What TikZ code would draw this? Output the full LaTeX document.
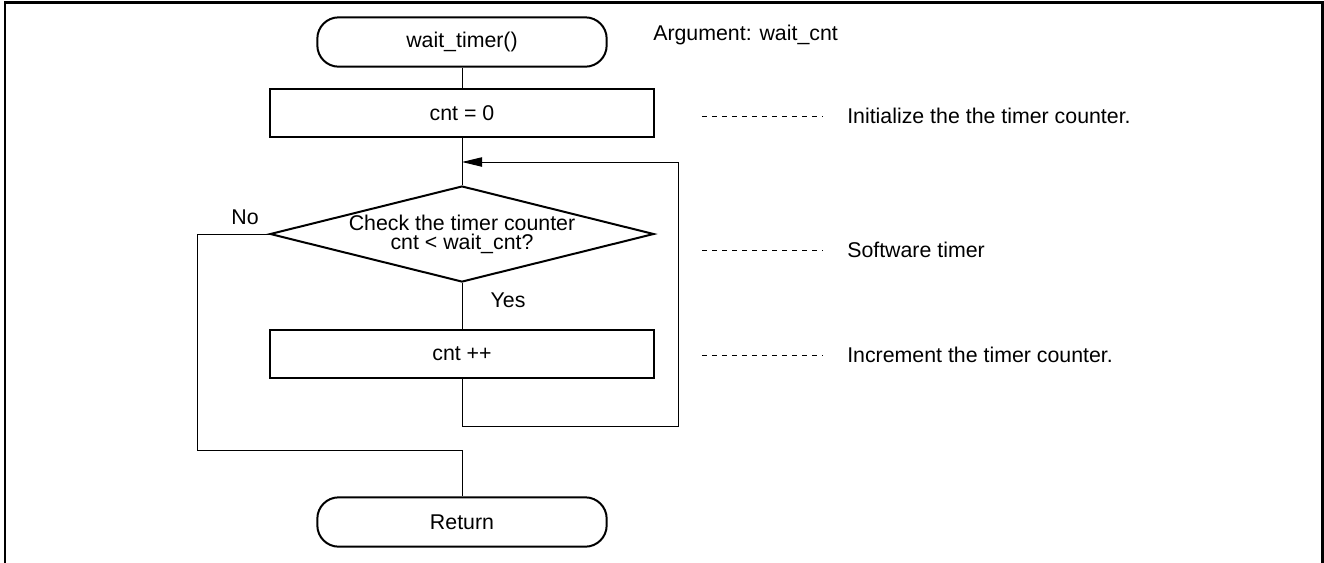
\documentclass[tikz,border=0pt]{standalone}
\usepackage{fontspec}
\setmainfont{Liberation Sans}
\usetikzlibrary{shapes.geometric,arrows.meta}

\begin{document}
\begin{tikzpicture}[x=0.75pt, y=-0.75pt, font=\fontsize{16}{14.3}\selectfont]
	\tikzstyle{term}=[draw=black, line width=1.5pt, rounded corners=16pt, minimum width=217pt, minimum height=37pt]
	\tikzstyle{proc}=[draw=black, line width=1.5pt, minimum width=288.5pt, minimum height=36pt]
	\tikzstyle{decide}=[diamond, draw=black, line width=1.5pt, aspect=4, inner sep=0pt, minimum width=288pt, minimum height=72pt, align=center]
	\tikzstyle{note}=[anchor=west, inner xsep=18pt, inner ysep=0pt]
	\tikzstyle{flow}=[line width=0.75pt]
	\tikzstyle{dots}=[line width=0.75pt, dash pattern=on 3.75pt off 3.75pt]
	
	\useasboundingbox (0,0) rectangle (1324,562);
	\draw [line width=1.9pt] (5,2.5) rectangle (1322.5,566);
	
	\draw node at (462, 42) [term] (start) {wait\_timer()};
	\draw node at (653, 35) [anchor=west, inner sep=0pt] (arg) {Argument: wait\_cnt};
	\draw node at (462, 113) [proc] (init) {cnt = 0};
	\draw node at (462, 234) [decide] (check) {Check the timer counter\\cnt < wait\_cnt?};
	\draw node at (462, 354) [proc] (incr) {cnt ++};
	\draw node at (462, 522) [term] (ret) {Return};
	
	\node at (245, 217) (no) {No};
	\node at (508, 300) (yes) {Yes};
	
	\coordinate (join) at (462, 162);
	\coordinate (back) at (678, 426);
	\coordinate (nocorner) at (197, 450);
	
	\draw [flow] (start) -- (init);
	\draw [flow] (init) -- (check);
	\draw [flow] (check) -- (incr);
	\draw [flow, -{Triangle[length=15pt, width=7pt]}] (incr.south) |- (back) |- (join);
	\draw [flow] (check.west) -| (nocorner) -| (ret.north);
	
	% comments on the right
	\coordinate (d1) at (702, 116);
	\coordinate (d2) at (702, 250);
	\coordinate (d3) at (702, 355);
	\draw node at (823, 116) [note] (c1) {Initialize the the timer counter.};
	\draw node at (823, 250) [note] (c2) {Software timer};
	\draw node at (823, 355) [note] (c3) {Increment the timer counter.};
	\draw [dots] (d1) -- (c1);
	\draw [dots] (d2) -- (c2);
	\draw [dots] (d3) -- (c3);
\end{tikzpicture}
\end{document}
